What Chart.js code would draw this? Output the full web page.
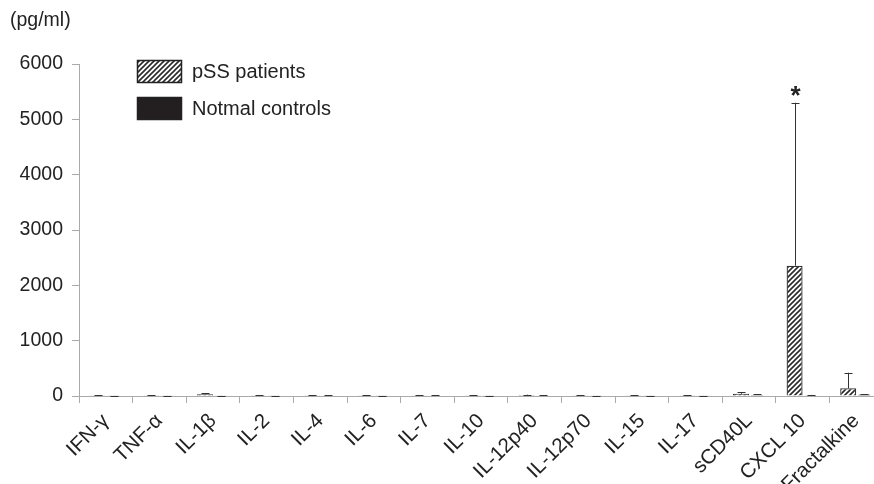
<!DOCTYPE html>
<html>
<head>
<meta charset="utf-8">
<script src="https://cdn.jsdelivr.net/npm/chart.js@4/dist/chart.umd.min.js"></script>
<style>
  html, body { margin: 0; padding: 0; background: #fff; overflow: hidden; }
  #wrap { width: 874px; height: 484px; overflow: hidden; }
</style>
</head>
<body>
<div id="wrap"><canvas id="c" width="883" height="484"></canvas></div>
<script>
const categories = ['IFN-γ', 'TNF-α', 'IL-1β', 'IL-2', 'IL-4', 'IL-6', 'IL-7', 'IL-10', 'IL-12p40', 'IL-12p70', 'IL-15', 'IL-17', 'sCD40L', 'CXCL 10', 'Fractalkine'];
const pssValues      = [12, 12, 30, 12, 12, 12, 14, 12, 18, 12, 12, 12, 40, 2355, 139];
const pssErrors      = [3, 3, 22, 3, 4, 3, 4, 3, 6, 3, 3, 3, 30, 2945, 282];
const controlValues  = [4, 3, 5, 4, 10, 3, 8, 3, 10, 4, 3, 4, 20, 15, 25];
const controlErrors  = [1, 1, 2, 1, 3, 1, 2, 1, 3, 1, 1, 1, 10, 5, 8];
const significance   = ['', '', '', '', '', '', '', '', '', '', '', '', '', '*', ''];
const yTicks         = [0, 1000, 2000, 3000, 4000, 5000, 6000];
const seriesLabels   = ['pSS patients', 'Notmal controls'];
const unitLabel      = '(pg/ml)';

const FONT = '"Liberation Sans", Arial, sans-serif';

function hatch() {
  const s = 5;
  const p = document.createElement('canvas');
  p.width = s; p.height = s;
  const g = p.getContext('2d');
  g.fillStyle = '#ffffff';
  g.fillRect(0, 0, s, s);
  g.strokeStyle = '#2a2a2a';
  g.lineWidth = 1.6;
  g.beginPath();
  g.moveTo(-1, s + 1); g.lineTo(s + 1, -1);
  g.moveTo(-1, 1); g.lineTo(1, -1);
  g.moveTo(s - 1, s + 1); g.lineTo(s + 1, s - 1);
  g.stroke();
  return g.createPattern(p, 'repeat');
}
const hatchFill = hatch();
const errors = [pssErrors, controlErrors];

const overlay = {
  id: 'overlay',
  afterDatasetsDraw(chart) {
    const ctx = chart.ctx;
    const y = chart.scales.y;
    ctx.save();
    ctx.strokeStyle = '#333';
    ctx.lineWidth = 1;
    chart.data.datasets.forEach((ds, i) => {
      const meta = chart.getDatasetMeta(i);
      meta.data.forEach((bar, j) => {
        const top = y.getPixelForValue(ds.data[j] + errors[i][j]);
        const x = Math.round(bar.x) + 0.5;
        ctx.beginPath();
        ctx.moveTo(x, bar.y);
        ctx.lineTo(x, top);
        ctx.moveTo(x - 4, Math.round(top) + 0.5);
        ctx.lineTo(x + 4, Math.round(top) + 0.5);
        ctx.stroke();
        if (i === 0 && significance[j]) {
          ctx.fillStyle = '#222';
          ctx.font = 'bold 26px ' + FONT;
          ctx.textAlign = 'center';
          ctx.textBaseline = 'alphabetic';
          ctx.fillText(significance[j], x, top + 1);
        }
      });
    });
    // unit label
    ctx.fillStyle = '#222';
    ctx.font = '19.5px ' + FONT;
    ctx.textAlign = 'left';
    ctx.textBaseline = 'middle';
    ctx.fillText(unitLabel, 10, 21);
    // legend
    const fills = [hatchFill, '#231f20'];
    seriesLabels.forEach((lab, k) => {
      const bx = 137, by = 60 + k * 37;
      ctx.fillStyle = fills[k];
      ctx.fillRect(bx, by, 45, 23);
      ctx.strokeStyle = '#222';
      ctx.lineWidth = 1.5;
      ctx.strokeRect(bx + 0.5, by + 0.5, 44, 22);
      ctx.fillStyle = '#222';
      ctx.font = '20px ' + FONT;
      ctx.textAlign = 'left';
      ctx.textBaseline = 'middle';
      ctx.fillText(lab, 192, by + 12);
    });
    ctx.restore();
  }
};

new Chart(document.getElementById('c'), {
  type: 'bar',
  data: {
    labels: categories,
    datasets: [
      { label: seriesLabels[0], data: pssValues, backgroundColor: hatchFill, borderColor: '#333', borderWidth: 1.3, categoryPercentage: 0.597, barPercentage: 1.0 },
      { label: seriesLabels[1], data: controlValues, backgroundColor: '#231f20', borderColor: '#444', borderWidth: 0.5, categoryPercentage: 0.597, barPercentage: 0.75 }
    ]
  },
  options: {
    responsive: false,
    animation: false,
    layout: { padding: { top: 64, right: 0, left: 0, bottom: 0 } },
    plugins: { legend: { display: false }, tooltip: { enabled: false } },
    scales: {
      x: {
        offset: true,
        grid: { display: true, drawOnChartArea: false, offset: true, color: '#aaa', tickLength: 7 },
        border: { color: '#aaa', width: 1 },
        ticks: { color: '#222', font: { size: 20.5, family: FONT }, minRotation: 45, maxRotation: 45, autoSkip: false, padding: 6 },
        afterFit(s) { s.height = 88; }
      },
      y: {
        min: 0, max: 6000,
        afterBuildTicks(s) { s.ticks = yTicks.map(v => ({ value: v })); },
        grid: { display: true, drawOnChartArea: false, color: '#aaa', tickLength: 7 },
        border: { color: '#aaa', width: 1 },
        ticks: { color: '#222', font: { size: 19.5, family: FONT }, padding: 9, callback: v => String(v) },
        afterFit(s) { s.width = 79; }
      }
    }
  },
  plugins: [overlay]
});
</script>
</body>
</html>
